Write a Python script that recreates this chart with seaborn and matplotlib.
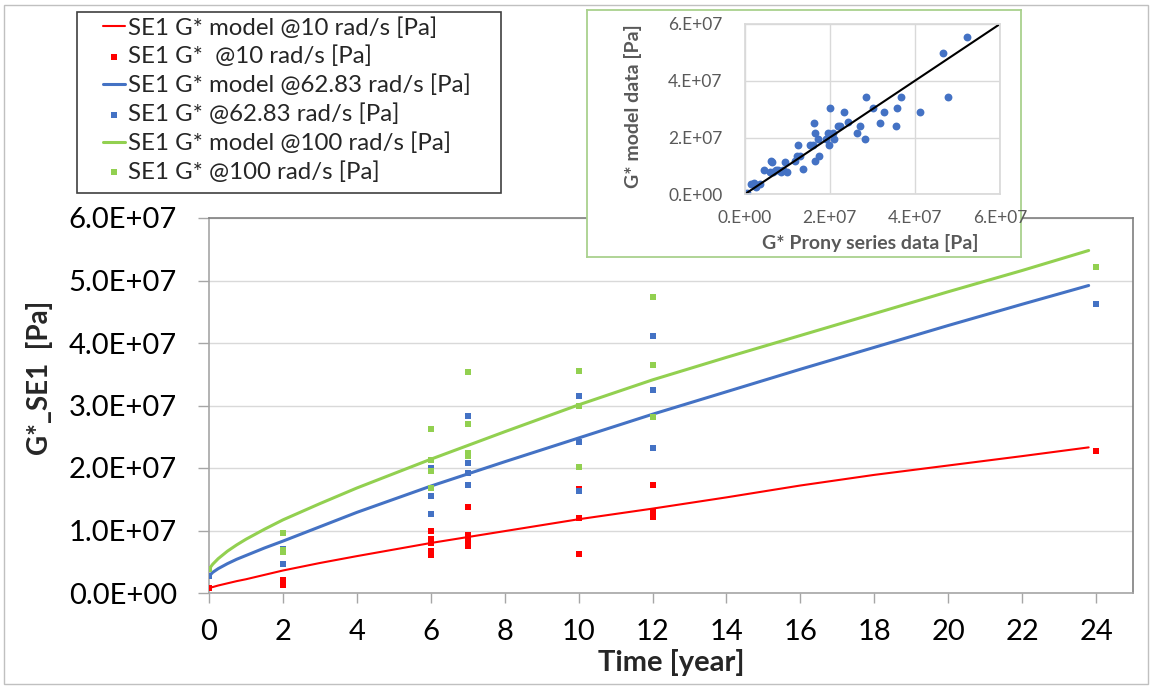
import numpy as np
import matplotlib
matplotlib.use("Agg")
import matplotlib.pyplot as plt
import seaborn as sns
from matplotlib.patches import Rectangle
from matplotlib.ticker import FuncFormatter

# MODEL CURVES (in 1e6 Pa)
t_model = [0, 0.1, 0.25, 0.5, 0.75, 1, 1.5, 2, 3, 4, 6, 8, 10, 12, 14, 16, 18, 20, 22, 23.8]
g_model_10 = [0.85, 0.95, 1.2, 1.55, 1.9, 2.2, 2.9, 3.6, 4.8, 5.9, 8.0, 9.9, 11.8, 13.5,
              15.3, 17.2, 18.9, 20.4, 21.9, 23.3]
g_model_63 = [2.7, 3.3, 3.9, 4.7, 5.4, 6.0, 7.2, 8.3, 10.6, 12.9, 17.1, 21.0, 24.8, 28.6,
              32.2, 35.8, 39.3, 42.8, 46.2, 49.2]
g_model_100 = [3.8, 4.6, 5.5, 6.7, 7.7, 8.6, 10.2, 11.7, 14.3, 16.8, 21.4, 25.8, 30.1, 34.1,
               37.7, 41.2, 44.7, 48.2, 51.6, 54.8]

# MEASURED POINTS (1e6 Pa)
t_obs_10 = [0, 2, 2, 6, 6, 6, 6, 6, 7, 7, 7, 7, 7, 10, 10, 10, 12, 12, 12, 24]
g_obs_10 = [0.85, 2.1, 1.35, 9.9, 8.6, 8.0, 6.8, 6.1, 13.7, 9.3, 8.7, 8.0, 7.5,
            16.6, 12.0, 6.2, 17.3, 12.9, 12.1, 22.7]
t_obs_63 = [0, 2, 2, 6, 6, 6, 7, 7, 7, 7, 10, 10, 10, 12, 12, 12, 24]
g_obs_63 = [2.7, 7.0, 4.7, 20.0, 15.6, 12.7, 28.3, 20.8, 19.2, 17.3,
            31.6, 24.2, 16.3, 41.1, 32.5, 23.2, 46.3]
t_obs_100 = [0, 2, 2, 2, 6, 6, 6, 6, 7, 7, 7, 7, 10, 10, 10, 12, 12, 12, 24]
g_obs_100 = [3.8, 9.6, 6.9, 6.6, 26.3, 21.3, 19.5, 16.8, 35.4, 27.1, 22.4, 21.9,
             35.6, 29.9, 20.1, 47.4, 36.5, 28.2, 52.1]

# INSET: prony series vs model (1e7 Pa)
prony_x = [0.06, 0.14, 0.22, 0.27, 0.35, 0.45, 0.61, 0.64, 0.60, 0.67, 0.74, 0.79, 0.85, 0.89,
           0.94, 0.99, 1.19, 1.22, 1.29, 1.26, 1.36, 1.54, 1.60, 1.62, 1.66, 1.65, 1.74, 1.73,
           1.91, 1.95, 1.99, 2.01, 2.07, 2.10, 2.20, 2.24, 2.34, 2.43, 2.64, 2.70, 2.82, 2.84,
           3.01, 3.18, 3.28, 3.55, 3.58, 3.67, 4.13, 4.65, 4.78, 5.22]
model_y = [0.06, 0.36, 0.39, 0.27, 0.36, 0.84, 1.19, 1.13, 0.80, 0.80, 0.86, 0.84, 0.80, 0.86,
           1.13, 0.80, 1.19, 1.35, 1.35, 1.72, 0.89, 1.72, 1.72, 2.51, 2.15, 1.19, 1.35, 1.94,
           1.94, 2.15, 1.73, 3.04, 2.15, 1.94, 2.41, 2.39, 2.89, 2.53, 2.15, 2.39, 1.94, 3.42,
           3.04, 2.51, 2.89, 2.39, 3.04, 3.42, 2.89, 4.98, 3.42, 5.54]
ref_line = [0, 6e7]

labels = ["SE1 G* model @10 rad/s [Pa]", "SE1 G*  @10 rad/s [Pa]",
          "SE1 G* model @62.83 rad/s [Pa]", "SE1 G* @62.83 rad/s [Pa]",
          "SE1 G* model @100 rad/s [Pa]", "SE1 G* @100 rad/s [Pa]"]

sns.set_theme(style="white")
plt.rcParams['font.family'] = ['Lato', 'DejaVu Sans']

W, H = 1153, 688
def px(x0, y0, x1, y1):
    return [x0 / W, 1 - y1 / H, (x1 - x0) / W, (y1 - y0) / H]

fig = plt.figure(figsize=(W / 100, H / 100), dpi=100)
fig.patches.append(Rectangle((4 / W, 4 / H), 1 - 9 / W, 1 - 9 / H, transform=fig.transFigure,
                             fill=False, ec='#c0c0c0', lw=1))

# MAIN CHART
ax = fig.add_axes(px(209, 218, 1133, 593))
series = [
    (g_model_10, t_obs_10, g_obs_10, '#FF0000', 1.5),
    (g_model_63, t_obs_63, g_obs_63, '#4472C4', 2.2),
    (g_model_100, t_obs_100, g_obs_100, '#92D050', 2.2),
]
for i, (gm, to, go, col, lw) in enumerate(series):
    sns.lineplot(x=t_model, y=np.array(gm) * 1e6, ax=ax, color=col, lw=lw,
                 sort=False, estimator=None, label=labels[2 * i])
    sns.scatterplot(x=to, y=np.array(go) * 1e6, ax=ax, color=col, marker='s', s=16,
                    linewidth=0, label=labels[2 * i + 1], zorder=3)

handles, labs = ax.get_legend_handles_labels()
ax.get_legend().remove()

ax.set_xlim(0, 25)
ax.set_ylim(0, 6e7)
ax.set_xticks(range(0, 25, 2))
ax.set_yticks(np.arange(0, 6.01e7, 1e7))
ax.yaxis.set_major_formatter(FuncFormatter(lambda v, p: f"{v:.1E}"))
ax.grid(axis='y', color='#d9d9d9', lw=1)
ax.set_axisbelow(True)
ax.tick_params(axis='both', bottom=True, left=True, direction='out', color='#a6a6a6',
               labelcolor='black', labelsize=21, width=1)
ax.tick_params(axis='y', length=8, pad=15)
ax.tick_params(axis='x', length=7, pad=12)
for s in ['left', 'bottom']:
    ax.spines[s].set_color('#a6a6a6')
for s in ['top', 'right']:
    ax.spines[s].set_color('#7f7f7f')
for s in ax.spines.values():
    s.set_linewidth(1.2)
ax.set_xlabel('')
ax.set_ylabel('')
fig.text(671 / W, 1 - 663 / H, "Time [year]", ha='center', va='center', fontsize=21, fontweight='bold')
fig.text(40 / W, 1 - 378 / H, "G*_SE1  [Pa]", ha='center', va='center', rotation=90,
         fontsize=20, fontweight='bold')

# LEGEND
fig.patches.append(Rectangle((77 / W, 1 - 193 / H), (501 - 77) / W, (193 - 12) / H,
                             transform=fig.transFigure, fc='white', ec='#404040', lw=1.2))
fig.legend(handles, labs, loc='upper left', bbox_to_anchor=(103 / W, 1 - 17 / H), frameon=False,
           borderpad=0, borderaxespad=0, handlelength=0.92, handletextpad=0.1,
           labelspacing=0.3, fontsize=17.3)

# INSET
box = fig.add_axes(px(587, 10, 1021, 257))
box.set_xticks([])
box.set_yticks([])
box.set_facecolor('white')
for s in box.spines.values():
    s.set_color('#A9D18E')
    s.set_linewidth(1.3)
box.set_zorder(5)

inset = fig.add_axes(px(744.7, 24, 1000, 194.3))
inset.set_zorder(6)
sns.scatterplot(x=np.array(prony_x) * 1e7, y=np.array(model_y) * 1e7, ax=inset,
                color='#4472C4', s=32, linewidth=0)
sns.lineplot(x=ref_line, y=ref_line, ax=inset, color='black', lw=1.5)
inset.set_xlim(0, 6e7)
inset.set_ylim(0, 6e7)
inset.set_xticks(np.arange(0, 6.01e7, 2e7))
inset.set_yticks(np.arange(0, 6.01e7, 2e7))
fmt = FuncFormatter(lambda v, p: f"{v:.0E}".replace('E', '.E'))
inset.xaxis.set_major_formatter(fmt)
inset.yaxis.set_major_formatter(fmt)
inset.grid(True, color='#d9d9d9', lw=1)
inset.set_axisbelow(True)
for s in inset.spines.values():
    s.set_color('#d9d9d9')
inset.tick_params(length=0, labelsize=12.5, labelcolor='#595959')
inset.tick_params(axis='y', pad=16)
inset.tick_params(axis='x', pad=11)
inset.set_xlabel('')
inset.set_ylabel('')
fig.text(870 / W, 1 - 243 / H, "G* Prony series data [Pa]", ha='center', va='center',
         fontsize=14, fontweight='bold', color='#595959', zorder=7)
fig.text(633 / W, 1 - 106 / H, "G* model data [Pa]", ha='center', va='center', rotation=90,
         fontsize=14, fontweight='bold', color='#595959', zorder=7)

fig.savefig("out.png", dpi=100)
